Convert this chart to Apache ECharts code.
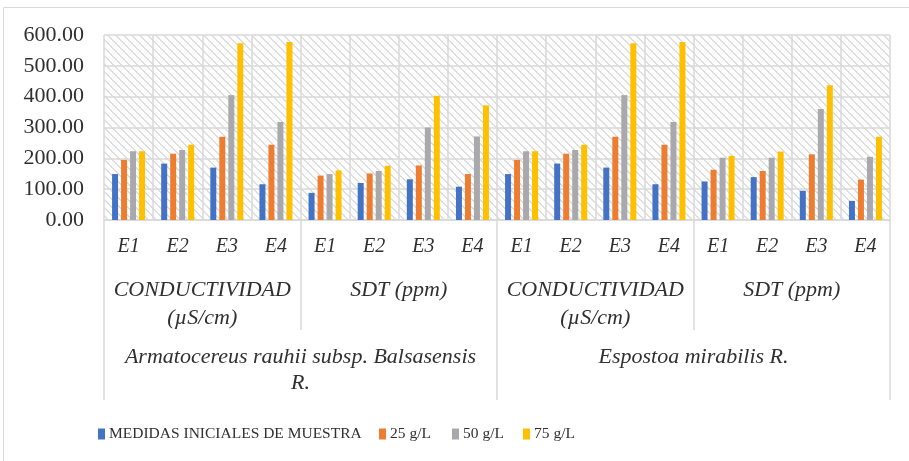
<!DOCTYPE html>
<html>
<head>
<meta charset="utf-8">
<script src="https://cdn.jsdelivr.net/npm/echarts@6/dist/echarts.min.js"></script>
<style>
  html, body { margin: 0; padding: 0; background: #fff; }
  #chart { width: 909px; height: 461px; }
</style>
</head>
<body>
<div id="chart"></div>
<script>
// ---- Data ----
const seriesNames = ['MEDIDAS INICIALES DE MUESTRA', '25 g/L', '50 g/L', '75 g/L'];
const categories = ['E1','E2','E3','E4','E1','E2','E3','E4','E1','E2','E3','E4','E1','E2','E3','E4'];
const parameterLabels = ['CONDUCTIVIDAD\n(µS/cm)', 'SDT (ppm)', 'CONDUCTIVIDAD\n(µS/cm)', 'SDT (ppm)'];
const speciesLabels = ['Armatocereus rauhii subsp. Balsasensis\nR.', 'Espostoa mirabilis R.'];
const yTicks = [0, 100, 200, 300, 400, 500, 600];

const inicial = [149, 183, 170, 116, 88, 120, 132, 108, 149, 183, 170, 116, 125, 139, 95, 62];
const g25     = [195, 215, 270, 244, 144, 151, 177, 149, 195, 215, 270, 244, 163, 159, 213, 131];
const g50     = [223, 227, 405, 318, 149, 159, 300, 271, 223, 227, 405, 318, 202, 202, 360, 205];
const g75     = [223, 244, 573, 577, 161, 176, 403, 372, 223, 244, 573, 577, 208, 222, 437, 270];

const colors = ['#4472C4', '#ED7D31', '#A9A9AD', '#FFC000'];

// ---- hatch pattern for plot background ----
const pc = document.createElement('canvas');
pc.width = 8; pc.height = 8;
const pctx = pc.getContext('2d');
pctx.fillStyle = '#ffffff';
pctx.fillRect(0, 0, 8, 8);
pctx.fillStyle = '#dedede';
for (let i = 0; i < 8; i++) {
  pctx.fillRect(i, i, 1, 1);
  pctx.fillRect((i + 1) % 8, i, 1, 1);
}

const FONT = '"Liberation Serif", "Times New Roman", serif';
const TXT = '#303030';
const GRID = '#d9d9d9';

const chart = echarts.init(document.getElementById('chart'), null, { renderer: 'canvas' });

const allData = [inicial, g25, g50, g75];
const legendLefts = [98, 379, 452, 523];

chart.setOption({
  animation: false,
  backgroundColor: '#ffffff',
  color: colors,
  grid: {
    left: 104, right: 19, top: 35, bottom: 241,
    show: true,
    borderWidth: 0,
    backgroundColor: { image: pc, repeat: 'repeat' }
  },
  legend: seriesNames.map((n, i) => ({
    data: [n],
    left: legendLefts[i],
    top: 426,
    padding: 0,
    icon: 'rect',
    itemWidth: 7,
    itemHeight: 11,
    itemGap: 4,
    textStyle: { fontFamily: FONT, fontSize: 15.5, color: TXT, padding: [0, 0, 0, -1] }
  })),
  xAxis: [
    {
      type: 'category',
      data: categories,
      position: 'bottom',
      axisLine: { show: true, lineStyle: { color: GRID, width: 1.5 } },
      axisTick: { show: false },
      splitLine: { show: true, lineStyle: { color: GRID, width: 1.5 } },
      axisLabel: { fontFamily: FONT, fontStyle: 'italic', fontSize: 20, color: TXT, margin: 17, interval: 0 }
    },
    {
      type: 'category',
      data: parameterLabels,
      position: 'bottom',
      axisLine: { show: false },
      axisTick: { show: true, length: 110, lineStyle: { color: GRID, width: 1.5 } },
      splitLine: { show: false },
      axisLabel: { fontFamily: FONT, fontStyle: 'italic', fontSize: 22, lineHeight: 28, color: TXT, margin: 56, interval: 0 }
    },
    {
      type: 'category',
      data: speciesLabels,
      position: 'bottom',
      axisLine: { show: false },
      axisTick: { show: true, length: 180, lineStyle: { color: GRID, width: 1.5 } },
      splitLine: { show: false },
      axisLabel: { fontFamily: FONT, fontStyle: 'italic', fontSize: 22, lineHeight: 26, color: TXT, margin: 124, interval: 0 }
    }
  ],
  yAxis: {
    type: 'value',
    min: yTicks[0],
    max: yTicks[yTicks.length - 1],
    interval: 100,
    axisLine: { show: false },
    axisTick: { show: false },
    splitLine: { show: true, lineStyle: { color: GRID, width: 1.5 } },
    axisLabel: {
      fontFamily: FONT, fontSize: 22, color: TXT, margin: 20,
      formatter: v => v.toFixed(2)
    }
  },
  graphic: [
    { type: 'rect', shape: { x: 3.5, y: 7.5, width: 920, height: 470 }, style: { fill: 'none', stroke: GRID, lineWidth: 1 }, silent: true, z: -1 }
  ],
  series: seriesNames.map((n, i) => ({
    name: n,
    type: 'bar',
    xAxisIndex: 0,
    data: allData[i],
    barWidth: 6,
    barGap: '50%',
    itemStyle: { color: colors[i] }
  }))
});
</script>
</body>
</html>
